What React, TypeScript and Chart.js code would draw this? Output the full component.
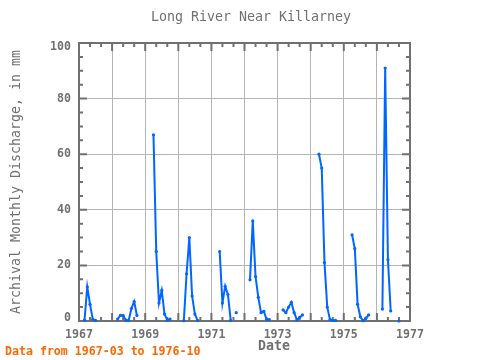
import { useEffect, useRef } from 'react';
import { Chart, registerables } from 'chart.js';

Chart.register(...registerables);

// ---- data (monthly archival discharge, mm) ----
const years = [1967, 1968, 1969, 1970, 1971, 1972, 1973, 1974, 1975, 1976];
// operating season months (1 = Jan)
const seasonMonths = [3, 4, 5, 6, 7, 8, 9, 10];
const q1967 = [0.3, 12.3, 6, 0.6, 0.2, null, null, null];
const q1968 = [0.7, 2, 2, 0.3, 0.2, 4.5, 7, 2];
const q1969 = [null, 67, 25, 6.5, 11, 2.5, 0.3, 0.7];
const q1970 = [0.1, 17, 30, 9, 2.5, 0.2, null, null];
const q1971 = [null, 25, 6.5, 12.5, 9.5, 0.2, null, 3];
const q1972 = [14.8, 36, 16, 8.5, 3, 3.5, 0.5, 0.5];
const q1973 = [4, 3, 5, 6.7, 3, 0.4, 1.3, 2.2];
const q1974 = [null, 60, 55, 21, 5, 0.5, 0.2, 0.2];
const q1975 = [null, 31, 26, 6, 1.5, 0.1, 1, 2.2];
const q1976 = [4.3, 91, 22, 3.6, null, null, 0, null];
const seasons = [q1967, q1968, q1969, q1970, q1971, q1972, q1973, q1974, q1975, q1976];

const yTickValues = [0, 20, 40, 60, 80, 100];
const xLabelYears = [1967, 1969, 1971, 1973, 1975, 1977];

const titleText = 'Long River Near Killarney';
const xTitleText = 'Date';
const yTitleText = 'Archival Monthly Discharge, in mm';
const footerText = 'Data from 1967-03 to 1976-10';

const MONO = '"DejaVu Sans Mono", monospace';

function buildPoints() {
  const pts: { x: number; y: number | null }[] = [];
  years.forEach((yr, i) => {
    seasonMonths.forEach((m, j) => {
      pts.push({ x: yr + (m - 1) / 12, y: seasons[i][j] });
    });
    // November: no record (break the line between seasons)
    pts.push({ x: yr + 10 / 12, y: null });
  });
  return pts;
}

const frameAndTicks = {
  id: 'frameAndTicks',
  beforeDatasetsDraw(chart: any) {
    const { ctx, chartArea: a, scales } = chart;
    const xs = scales.x;
    const ys = scales.y;
    ctx.save();
    ctx.strokeStyle = '#707070';
    ctx.lineWidth = 2;
    // inward ticks on x (top and bottom)
    for (let yr = 1967; yr <= 1977; yr++) {
      for (let k = 0; k < 3; k++) {
        const v = yr + k / 3;
        if (v > 1977) break;
        const px = xs.getPixelForValue(v);
        const len = k === 0 ? 8 : 4;
        ctx.beginPath();
        ctx.moveTo(px, a.bottom);
        ctx.lineTo(px, a.bottom - len);
        ctx.moveTo(px, a.top);
        ctx.lineTo(px, a.top + len);
        ctx.stroke();
      }
    }
    // inward ticks on y (left and right)
    for (let v = 0; v <= 100; v += 5) {
      const py = ys.getPixelForValue(v);
      const len = v % 20 === 0 ? 8 : 4;
      ctx.beginPath();
      ctx.moveTo(a.left, py);
      ctx.lineTo(a.left + len, py);
      ctx.moveTo(a.right, py);
      ctx.lineTo(a.right - len, py);
      ctx.stroke();
    }
    ctx.strokeRect(a.left, a.top, a.right - a.left, a.bottom - a.top);

    // y tick labels (kept inside the frame's vertical extent)
    ctx.fillStyle = '#707070';
    ctx.font = 'bold 11.6px ' + MONO;
    ctx.textAlign = 'right';
    ctx.textBaseline = 'middle';
    yTickValues.forEach((v) => {
      let py = ys.getPixelForValue(v);
      py = Math.max(a.top + 4, Math.min(a.bottom - 3, py));
      ctx.fillText(String(v), a.left - 8, py);
    });
    ctx.restore();
  },
  afterDraw(chart: any) {
    const ctx = chart.ctx;
    ctx.save();
    ctx.textAlign = 'center';
    ctx.textBaseline = 'middle';
    ctx.fillStyle = '#707070';
    ctx.font = '13.3px ' + MONO;
    ctx.fillText(titleText, 251, 18);
    ctx.font = 'bold 13.3px ' + MONO;
    ctx.fillText(xTitleText, 274, 347);
    ctx.save();
    ctx.translate(17, 182);
    ctx.rotate(-Math.PI / 2);
    ctx.font = '13.3px ' + MONO;
    ctx.fillText(yTitleText, 0, 0);
    ctx.restore();
    ctx.textAlign = 'left';
    ctx.fillStyle = '#ff6600';
    ctx.font = 'bold 11.6px ' + MONO;
    ctx.fillText(footerText, 5, 352);
    ctx.restore();
  },
};

export default function App() {
  const ref = useRef<HTMLCanvasElement | null>(null);
  useEffect(() => {
    if (!ref.current) return;
    const chart = new Chart(ref.current, {
      type: 'line',
      data: {
        datasets: [
          {
            data: buildPoints() as any,
            borderColor: '#0066ff',
            backgroundColor: '#0066ff',
            borderWidth: 2,
            pointRadius: 1.6,
            pointHoverRadius: 1.6,
            pointBorderWidth: 0,
            spanGaps: false,
            tension: 0,
            clip: 6,
          } as any,
        ],
      },
      options: {
        animation: false,
        responsive: false,
        devicePixelRatio: 1,
        events: [],
        layout: { padding: { left: 0, top: 43, right: 70, bottom: 0 } },
        plugins: { legend: { display: false }, title: { display: false }, tooltip: { enabled: false } },
        scales: {
          x: {
            type: 'linear',
            min: 1967,
            max: 1977,
            afterFit: (s: any) => {
              s.height = 39;
            },
            afterBuildTicks: (s: any) => {
              const t = [];
              for (let y = 1967; y <= 1977; y++) t.push({ value: y });
              s.ticks = t;
            },
            ticks: {
              autoSkip: false,
              maxRotation: 0,
              padding: 7,
              color: '#707070',
              font: { family: MONO, size: 11.6, weight: 'bold' },
              callback: (v: any) => (xLabelYears.includes(Number(v)) ? String(v) : ''),
            },
            grid: { color: '#b4b4b4', lineWidth: 1, drawTicks: false },
            border: { display: false },
          },
          y: {
            type: 'linear',
            min: 0,
            max: 100,
            afterFit: (s: any) => {
              s.width = 79;
            },
            afterBuildTicks: (s: any) => {
              s.ticks = yTickValues.map((v) => ({ value: v }));
            },
            ticks: { display: false },
            grid: { color: '#b4b4b4', lineWidth: 1, drawTicks: false },
            border: { display: false },
          },
        },
      },
      plugins: [frameAndTicks],
    });
    return () => chart.destroy();
  }, []);
  return (
    <div style={{ position: 'absolute', left: 0, top: 0, width: 480, height: 360, background: '#fff' }}>
      <canvas ref={ref} width={480} height={360} />
    </div>
  );
}
